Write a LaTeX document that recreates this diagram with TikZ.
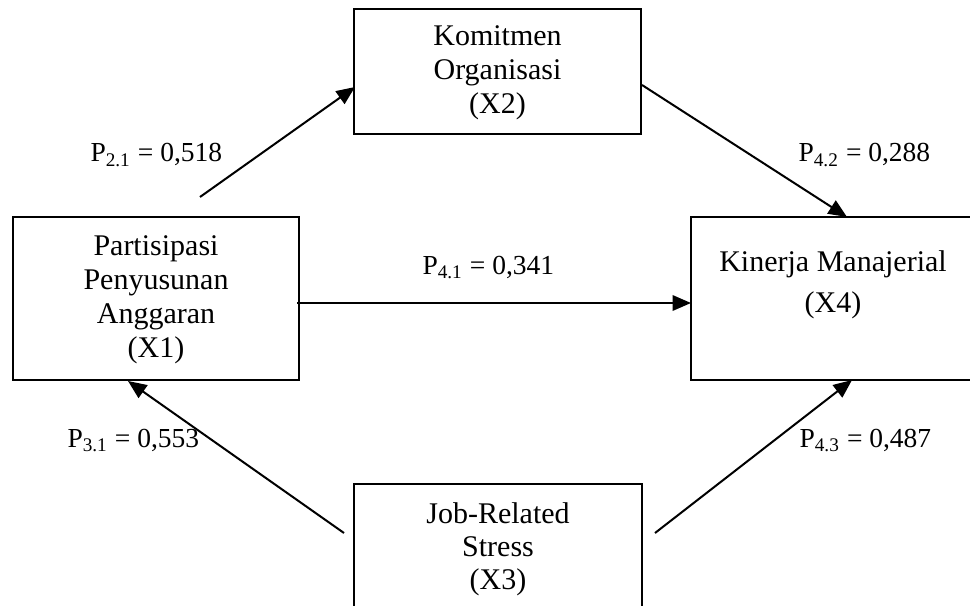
\documentclass[tikz,border=0pt]{standalone}
\usepackage{fontspec}
\setmainfont{Liberation Serif}
\usetikzlibrary{arrows.meta}
\begin{document}
\begin{tikzpicture}[x=0.4pt,y=-0.4pt,
  box/.style={draw, line width=0.9pt, inner sep=0pt, rectangle},
  boxtext/.style={align=center, inner sep=0pt, font=\fontsize{12}{13.6}\selectfont},
  lbl/.style={inner sep=0pt, anchor=base west, font=\fontsize{11}{13}\selectfont},
  conn/.style={line width=0.8pt, -{Triangle[length=7.4pt,width=6.2pt]}}]
\path[use as bounding box, clip] (0,0) rectangle (970,605);
% boxes
\node[box, minimum width=114.4pt, minimum height=65.2pt] (X1) at (156,298.5) {};
\node[box, minimum width=114.8pt, minimum height=50pt] (X2) at (497.5,71.5) {};
\node[box, minimum width=115.2pt, minimum height=51.2pt] (X3) at (498,548) {};
\node[box, minimum width=113.6pt, minimum height=65.2pt] (X4) at (833,298.5) {};
% box texts
\node[boxtext] (t1) at (156,299.5) {Partisipasi\\Penyusunan\\Anggaran\\(X1)};
\node[boxtext] (t2) at (497.5,73) {Komitmen\\Organisasi\\(X2)};
\node[boxtext, font=\fontsize{12}{13.2}\selectfont] (t3) at (498,549) {Job-Related\\Stress\\(X3)};
\node[boxtext, font=\fontsize{12}{16.4}\selectfont] (t4) at (833,285) {Kinerja Manajerial\\(X4)};
% connector ends
\coordinate (a21s) at (200,197);
\coordinate (a21e) at (355,87);
\coordinate (a42s) at (642,85);
\coordinate (a42e) at (847,217);
\coordinate (a41s) at (297,303);
\coordinate (a41e) at (691,303);
\coordinate (a31s) at (344,533);
\coordinate (a31e) at (128,381);
\coordinate (a43s) at (655,533);
\coordinate (a43e) at (852,380);
\draw[conn] (a21s) -- (a21e);
\draw[conn] (a42s) -- (a42e);
\draw[conn] (a41s) -- (a41e);
\draw[conn] (a31s) -- (a31e);
\draw[conn] (a43s) -- (a43e);
% labels
\node[lbl] (l21) at (90,162) {P\textsubscript{2.1} = 0,518};
\node[lbl] (l42) at (798,162) {P\textsubscript{4.2} = 0,288};
\node[lbl] (l41) at (422,274) {P\textsubscript{4.1} = 0,341};
\node[lbl] (l31) at (67,447) {P\textsubscript{3.1} = 0,553};
\node[lbl] (l43) at (799,447) {P\textsubscript{4.3} = 0,487};
\end{tikzpicture}
\end{document}
